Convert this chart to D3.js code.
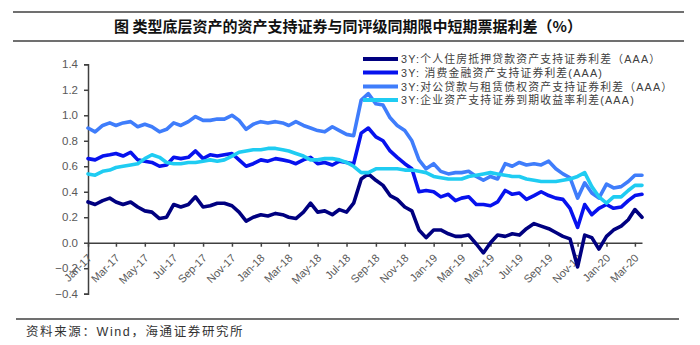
<!DOCTYPE html>
<html><head><meta charset="utf-8">
<script src="https://cdn.jsdelivr.net/npm/d3@7"></script>
<style>
html,body{margin:0;padding:0;background:#fff;}
svg{display:block;}
</style></head>
<body>
<script>
const dates = [
"2017-01-01","2017-01-16","2017-02-01","2017-02-16","2017-03-01","2017-03-16","2017-04-01","2017-04-16","2017-05-01","2017-05-16","2017-06-01","2017-06-16","2017-07-01","2017-07-16","2017-08-01","2017-08-16","2017-09-01","2017-09-16","2017-10-01","2017-10-16","2017-11-01","2017-11-16","2017-12-01","2017-12-16",
"2018-01-01","2018-01-16","2018-02-01","2018-02-16","2018-03-01","2018-03-16","2018-04-01","2018-04-16","2018-05-01","2018-05-16","2018-06-01","2018-06-16","2018-07-01","2018-07-16","2018-08-01","2018-08-16","2018-09-01","2018-09-16","2018-10-01","2018-10-16","2018-11-01","2018-11-16","2018-12-01","2018-12-16",
"2019-01-01","2019-01-16","2019-02-01","2019-02-16","2019-03-01","2019-03-16","2019-04-01","2019-04-16","2019-05-01","2019-05-16","2019-06-01","2019-06-16","2019-07-01","2019-07-16","2019-08-01","2019-08-16","2019-09-01","2019-09-16","2019-10-01","2019-10-16","2019-11-01","2019-11-16","2019-12-01","2019-12-16",
"2020-01-01","2020-01-16","2020-02-01","2020-02-16","2020-03-01","2020-03-16"];

const mortgageABS = [0.32,0.30,0.33,0.35,0.32,0.30,0.32,0.28,0.25,0.24,0.19,0.20,0.30,0.28,0.30,0.36,0.28,0.29,0.31,0.31,0.29,0.24,0.17,0.20,0.22,0.21,0.23,
0.22,0.20,0.19,0.24,0.31,0.24,0.25,0.22,0.26,0.24,0.31,0.50,0.54,0.49,0.45,0.37,0.34,0.28,0.25,0.10,0.04,0.10,0.10,0.07,0.05,
0.05,0.06,-0.01,-0.08,0.00,0.06,0.05,0.07,0.06,0.11,0.15,0.13,0.11,0.08,0.05,0.03,-0.19,0.06,0.04,-0.05,0.05,0.10,0.13,0.18,0.26,0.20];

const consumerABS = [0.66,0.65,0.68,0.69,0.70,0.68,0.71,0.65,0.64,0.63,0.60,0.61,0.67,0.66,0.67,0.72,0.66,0.69,0.68,0.69,0.70,0.65,0.60,0.62,0.65,0.64,0.66,
0.65,0.64,0.62,0.65,0.67,0.62,0.63,0.61,0.64,0.63,0.62,0.86,0.90,0.83,0.80,0.72,0.67,0.62,0.58,0.40,0.41,0.40,0.36,0.38,0.33,
0.35,0.36,0.30,0.30,0.29,0.32,0.41,0.38,0.39,0.34,0.37,0.40,0.37,0.35,0.34,0.27,0.12,0.30,0.22,0.27,0.30,0.27,0.28,0.33,0.37,0.38];

const corporateLeaseABS = [0.90,0.87,0.92,0.94,0.92,0.94,0.95,0.91,0.93,0.91,0.87,0.89,0.94,0.92,0.95,0.99,0.96,0.96,0.97,0.97,1.00,0.96,0.89,0.93,0.95,0.94,0.95,
0.94,0.92,0.95,0.92,0.90,0.88,0.87,0.91,0.88,0.85,0.84,1.12,1.17,1.09,1.08,0.98,0.92,0.88,0.80,0.65,0.58,0.62,0.56,0.54,0.55,
0.55,0.56,0.52,0.49,0.52,0.50,0.62,0.60,0.63,0.61,0.62,0.61,0.64,0.58,0.54,0.51,0.35,0.47,0.39,0.35,0.46,0.43,0.44,0.48,0.53,0.53];

const enterpriseABS = [0.54,0.53,0.56,0.57,0.59,0.60,0.61,0.62,0.66,0.69,0.67,0.63,0.62,0.62,0.63,0.63,0.64,0.65,0.64,0.65,0.68,0.71,0.72,0.73,0.73,0.74,0.74,
0.73,0.72,0.70,0.68,0.65,0.65,0.66,0.66,0.65,0.63,0.60,0.55,0.55,0.58,0.58,0.58,0.58,0.57,0.57,0.56,0.55,0.52,0.51,0.50,0.50,
0.50,0.52,0.53,0.54,0.55,0.54,0.53,0.52,0.52,0.50,0.49,0.48,0.48,0.48,0.49,0.50,0.52,0.55,0.44,0.36,0.31,0.36,0.36,0.41,0.45,0.45];

const seriesNames = [
  "3Y:个人住房抵押贷款资产支持证券利差（AAA）",
  "3Y:  消费金融资产支持证券利差(AAA)",
  "3Y:对公贷款与租赁债权资产支持证券利差（AAA）",
  "3Y:企业资产支持证券到期收益率利差(AAA)"
];
const seriesValues = [mortgageABS, consumerABS, corporateLeaseABS, enterpriseABS];
const seriesColors = ["#000080", "#0712EE", "#3F7DFB", "#1FCCF2"];
const yTicks = [-0.4,-0.2,0.0,0.2,0.4,0.6,0.8,1.0,1.2,1.4];

const titleText = "图  类型底层资产的资产支持证券与同评级同期限中短期票据利差（%）";
const sourceText = "资料来源：Wind，海通证券研究所";

const W = 700, H = 345;
const parse = d3.timeParse("%Y-%m-%d");
const xDates = dates.map(parse);

const svg = d3.select("body").append("svg").attr("width", W).attr("height", H);
const latin = "'Liberation Sans', Arial, 'Noto Sans CJK SC', sans-serif";
const cjk = "'Noto Sans CJK SC', 'Liberation Sans', sans-serif";

// title block
svg.append("line").attr("x1",13).attr("x2",684).attr("y1",12).attr("y2",12).attr("stroke","#404040").attr("stroke-width",1.5);
svg.append("line").attr("x1",13).attr("x2",684).attr("y1",41).attr("y2",41).attr("stroke","#404040").attr("stroke-width",1.5);
svg.append("text").attr("x",348).attr("y",32).attr("text-anchor","middle")
  .attr("font-family",cjk).attr("font-weight","bold").attr("font-size",15).attr("fill","#111").text(titleText);

// source block
svg.append("line").attr("x1",16).attr("x2",679).attr("y1",319).attr("y2",319).attr("stroke","#404040").attr("stroke-width",1.5);
svg.append("text").attr("x",26).attr("y",336).attr("font-family",latin).attr("font-size",12.5)
  .attr("letter-spacing",1.6).attr("fill","#333").text(sourceText);

const x = d3.scaleTime().domain([parse("2017-01-01"), parse("2020-03-16")]).range([88, 642]);
const y = d3.scaleLinear().domain([-0.4, 1.4]).range([293.7, 64.3]);

// y axis
const yAxis = svg.append("g").attr("transform","translate(88,0)")
  .call(d3.axisLeft(y).tickValues(yTicks).tickFormat(d3.format(".1f")).tickSize(4).tickPadding(6));
yAxis.select(".domain").attr("stroke","#404040").attr("stroke-width",1.5);
yAxis.selectAll(".tick line").attr("stroke","#404040").attr("stroke-width",1.5);
yAxis.selectAll("text").attr("font-family",latin).attr("font-size",11.5).attr("fill","#595959");

// x axis at zero
const xAxis = svg.append("g").attr("transform",`translate(0,${y(0)})`)
  .call(d3.axisBottom(x).ticks(d3.timeMonth.every(2)).tickFormat(d3.timeFormat("%b-%y")).tickSize(4).tickSizeOuter(0));
xAxis.select(".domain").attr("stroke","#404040").attr("stroke-width",1.5);
xAxis.selectAll(".tick line").attr("stroke","#404040").attr("stroke-width",1.5);
xAxis.selectAll("text").attr("font-family",latin).attr("font-size",11).attr("fill","#595959")
  .attr("text-anchor","end").attr("dy",0).attr("y",0)
  .attr("transform","translate(4,16) rotate(-45)");

// lines
const line = d3.line().x((d,i)=>x(xDates[i])).y(d=>y(d));
seriesValues.forEach((vals,i)=>{
  svg.append("path").datum(vals).attr("d",line).attr("fill","none")
    .attr("stroke",seriesColors[i]).attr("stroke-width",3.6)
    .attr("stroke-linejoin","round").attr("stroke-linecap","round");
});

// legend
const legY = [59, 72.5, 86.5, 100];
seriesNames.forEach((nm,i)=>{
  svg.append("line").attr("x1",363).attr("x2",398).attr("y1",legY[i]).attr("y2",legY[i])
    .attr("stroke",seriesColors[i]).attr("stroke-width",4);
  svg.append("text").attr("x",401).attr("y",legY[i]+4.2).attr("font-family",latin).attr("font-size",10.8)
    .attr("letter-spacing",1.2).attr("fill","#404040").text(nm);
});
</script>
</body></html>
